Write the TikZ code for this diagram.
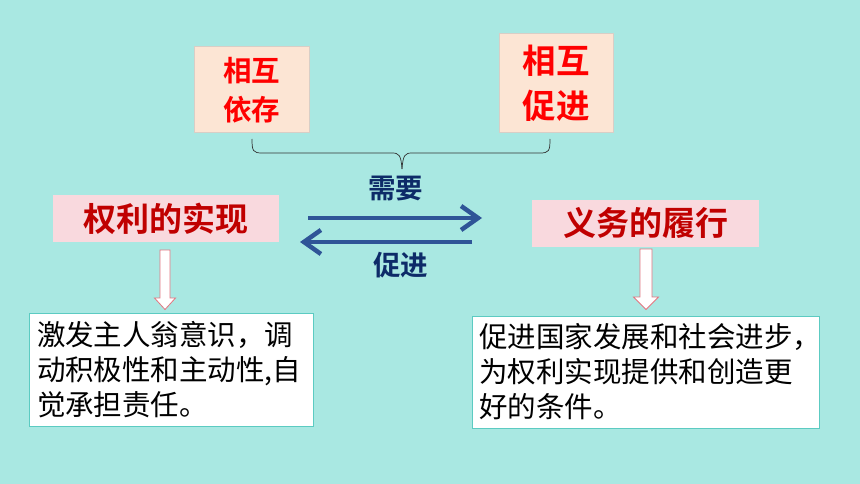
\documentclass[tikz,border=0pt]{standalone}
\usepackage{fontspec}
\newfontfamily\cjk{Noto Sans CJK SC}[BoldFont=Noto Sans CJK SC Bold]
\usetikzlibrary{arrows.meta}
\definecolor{bgc}{HTML}{A9E8E2}
\definecolor{peach}{HTML}{FCE5D4}
\definecolor{peachline}{HTML}{D8CEC6}
\definecolor{pinkbox}{HTML}{F9D9DE}
\definecolor{darkred}{HTML}{C00000}
\definecolor{arrowblue}{HTML}{2F5597}
\definecolor{navy}{HTML}{0D2B68}
\definecolor{hollowline}{HTML}{E27580}
\definecolor{tealline}{HTML}{5CCBC2}
\newcommand{\cjkstrut}{\rule[-0.12em]{0pt}{1em}}
\tikzset{
  peachbox/.style={draw=peachline, line width=1pt, fill=peach, text=red, align=center, inner sep=0pt},
  titlebox/.style={fill=pinkbox, text=darkred, inner sep=0pt, text height=29pt, text depth=4pt,
    font=\cjk\bfseries\fontsize{33}{40}\selectfont},
  notebox/.style={draw=tealline, line width=1pt, fill=white, align=left, inner ysep=0pt,
    font=\cjk\fontsize{28.5}{35}\selectfont},
  midlabel/.style={text=navy, inner sep=0pt, text height=24.2pt, text depth=3.3pt,
    font=\cjk\bfseries\fontsize{27.5}{33}\selectfont},
  bluearrow/.style={draw=arrowblue, line width=4.5pt, -{Straight Barb[length=17pt,width=24pt]}},
  hollow/.style={draw=hollowline, line width=0.8pt, fill=white, line join=miter},
  bracestyle/.style={draw=black!80, line width=0.7pt},
}
\begin{document}
\begin{tikzpicture}[x=1pt,y=-1pt]
\fill[bgc] (0,0) rectangle (860,484);
\useasboundingbox (0,0) rectangle (860,484);

% top boxes
\node[peachbox, minimum width=115, minimum height=86,
  font=\cjk\bfseries\fontsize{28.5}{39}\selectfont] (dep) at (251.5,90)
  {\cjkstrut 相互\\\cjkstrut 依存};
\node[peachbox, minimum width=114, minimum height=99,
  font=\cjk\bfseries\fontsize{33.5}{45}\selectfont] (pro) at (556,83.5)
  {\cjkstrut 相互\\\cjkstrut 促进};

% brace
\coordinate (bl) at (252,139);
\coordinate (br) at (550,139);
\coordinate (bm) at (402,169);
\draw[bracestyle] (bl) .. controls (252,151) and (253,153) .. (262,153) -- (392,153)
  .. controls (399,153) and (401,155) .. (bm);
\draw[bracestyle] (br) .. controls (550,151) and (549,153) .. (540,153) -- (412,153)
  .. controls (405,153) and (403,155) .. (bm);

% titles
\node[titlebox, minimum width=226, minimum height=47] (right) at (166,218.5) {权利的实现};
\node[titlebox, minimum width=227, minimum height=47] (duty) at (645.5,223.5) {义务的履行};

% mid labels and arrows
\node[midlabel] (need) at (395.5,188) {需要};
\node[midlabel] (promote) at (400.5,265) {促进};
\coordinate (a1s) at (308,218);
\coordinate (a1e) at (482,218);
\coordinate (a2s) at (472,242);
\coordinate (a2e) at (300,242);
\draw[bluearrow] (a1s) -- (a1e);
\draw[bluearrow] (a2s) -- (a2e);

% note boxes
\node[notebox, text width=268pt, inner xsep=8pt, minimum height=113] (lnote) at (171,369.5)
  {\cjkstrut 激发主人翁意识，调\\\cjkstrut 动积极性和主动性,自\\\cjkstrut 觉承担责任。};
\node[notebox, text width=333pt, inner xsep=7pt, minimum height=112] (rnote) at (645.5,372)
  {\cjkstrut 促进国家发展和社会进步，\\\cjkstrut 为权利实现提供和创造更\\\cjkstrut 好的条件。};

% hollow arrows
\draw[hollow] (160,250) -- (170,250) -- (170,298) -- (175.5,298) -- (165,309.5)
  -- (154.5,298) -- (160,298) -- cycle;
\draw[hollow] (640,249) -- (652,249) -- (652,297) -- (658.5,297) -- (646,309.5)
  -- (633.5,297) -- (640,297) -- cycle;
\end{tikzpicture}
\end{document}
